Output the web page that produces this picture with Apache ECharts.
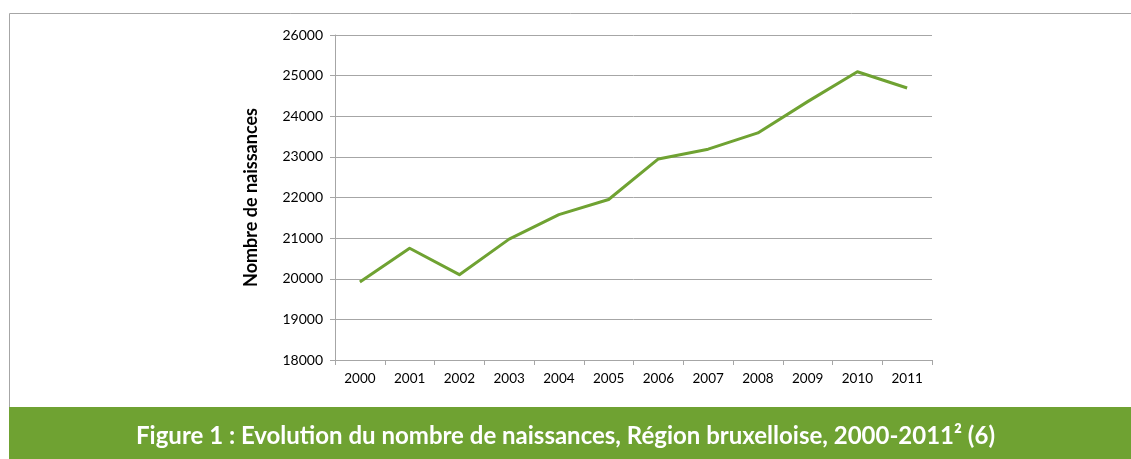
<!DOCTYPE html>
<html>
<head>
<meta charset="utf-8">
<script src="https://cdn.jsdelivr.net/npm/echarts@6/dist/echarts.min.js"></script>
<style>
  html, body { margin: 0; padding: 0; background: #fff; }
  #chart { width: 1131px; height: 459px; }
</style>
</head>
<body>
<div id="chart"></div>
<script>
// années et nombre de naissances
const years = ['2000', '2001', '2002', '2003', '2004', '2005', '2006', '2007', '2008', '2009', '2010', '2011'];
const births = [19920, 20750, 20100, 20975, 21580, 21950, 22950, 23190, 23590, 24360, 25095, 24695];
const yMin = 18000;
const yMax = 26000;
const yStep = 1000;

const titleText = 'Figure 1 : Evolution du nombre de naissances, Région bruxelloise, 2000-2011² (6)';
const green = '#6fa232';
const gridGray = '#a6a6a6';

const myChart = echarts.init(document.getElementById('chart'));

let option = {
    animation: false,
    textStyle: {
        fontFamily: 'Lato, "Open Sans", sans-serif'
    },
    graphic: [
        // cadre gris
        {
            type: 'rect',
            shape: { x: 9.5, y: 13.5, width: 1130, height: 394 },
            style: { fill: 'none', stroke: gridGray, lineWidth: 1 },
            silent: true
        },
        // bandeau vert
        {
            type: 'rect',
            shape: { x: 9, y: 407, width: 1122, height: 52 },
            style: { fill: green },
            silent: true
        },
        {
            type: 'text',
            left: 'center',
            top: 424,
            style: {
                text: titleText,
                fill: '#fff',
                font: 'bold 24px Lato, "Open Sans", sans-serif'
            },
            silent: true
        }
    ],
    grid: {
        left: 335,
        right: 199,
        top: 35,
        bottom: 99
    },
    xAxis: {
        type: 'category',
        data: years,
        boundaryGap: true,
        axisLine: { lineStyle: { color: gridGray, width: 1 } },
        axisTick: { show: true, length: 5, lineStyle: { color: gridGray } },
        axisLabel: {
            color: '#000',
            fontSize: 13.5,
            margin: 12,
            fontFamily: 'Lato, sans-serif'
        },
        splitLine: { show: false }
    },
    yAxis: {
        type: 'value',
        min: yMin,
        max: yMax,
        interval: yStep,
        name: 'Nombre de naissances',
        nameLocation: 'middle',
        nameGap: 75,
        nameTextStyle: {
            color: '#000',
            fontSize: 18,
            fontWeight: 'bold',
            fontFamily: 'Lato, sans-serif'
        },
        axisLine: { show: true, lineStyle: { color: gridGray, width: 1 } },
        axisTick: { show: true, length: 5, lineStyle: { color: gridGray } },
        axisLabel: {
            color: '#000',
            fontSize: 14,
            margin: 12,
            fontFamily: 'Lato, sans-serif',
            formatter: function (value) {
                return String(value);
            }
        },
        splitLine: { show: true, lineStyle: { color: gridGray, width: 1 } }
    },
    series: [
        {
            name: 'Naissances',
            type: 'line',
            data: births,
            symbol: 'none',
            lineStyle: { color: green, width: 3, join: 'round' },
            z: 3
        }
    ]
};
myChart.setOption(option);
</script>
</body>
</html>
